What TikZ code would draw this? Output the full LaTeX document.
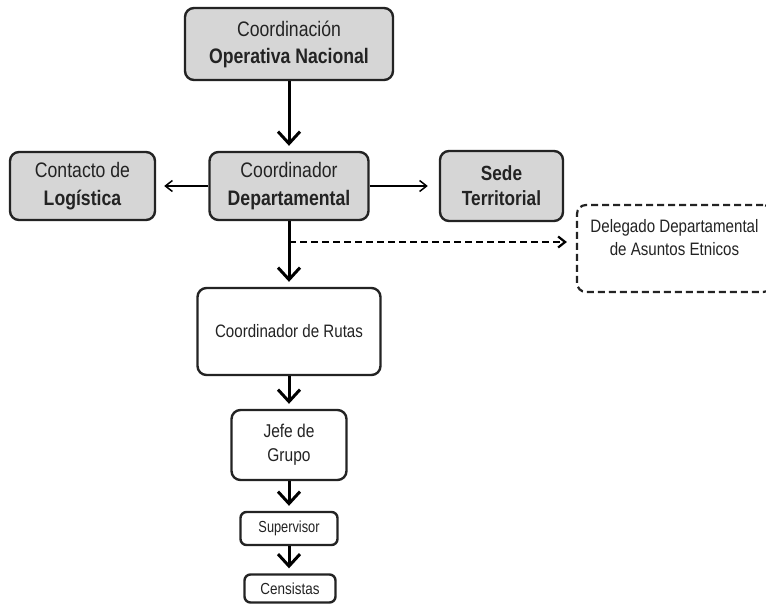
\documentclass[tikz,border=0pt]{standalone}
\usepackage{fontspec}
\setmainfont[FakeStretch=0.84]{Liberation Sans}
\usetikzlibrary{arrows.meta}
\definecolor{boxgray}{RGB}{214,214,214}
\definecolor{inkgray}{RGB}{35,35,35}

\begin{document}
\begin{tikzpicture}[x=1pt, y=-1pt,
  box/.style={draw=inkgray, line width=2.4pt, rounded corners=9pt, align=center, inner sep=0pt, text=inkgray},
  graybox/.style={box, fill=boxgray, font=\fontsize{21}{27}\selectfont},
  whitebox/.style={box, fill=white, font=\fontsize{18}{23}\selectfont},
  smallbox/.style={box, fill=white, rounded corners=6pt, font=\fontsize{16}{18}\selectfont},
  bigarrow/.style={line width=3pt, -{Straight Barb[length=12pt,width=22pt]}, shorten >=5pt},
  thinarrow/.style={line width=1.5pt, -{Straight Barb[length=7pt,width=11pt]}, shorten >=8pt},
  dasharrow/.style={line width=2.2pt, dash pattern=on 7pt off 4pt, -{Straight Barb[length=7pt,width=11pt]}, shorten >=9pt}]
\clip (0,0) rectangle (766,603);
% top of the chart
\node[graybox, minimum width=208pt, minimum height=72pt] (nacional) at (289,44) {Coordinación\\\textbf{Operativa Nacional}};
\node[graybox, minimum width=159pt, minimum height=68pt, font=\fontsize{21}{28}\selectfont] (depto) at (289,186) {Coordinador\\\textbf{Departamental}};
\node[graybox, minimum width=145pt, minimum height=68pt, font=\fontsize{21}{28}\selectfont] (logistica) at (82.5,186) {Contacto de\\\textbf{Logística}};
\node[graybox, minimum width=123pt, minimum height=70pt, font=\fontsize{20.5}{25}\selectfont] (sede) at (501.5,186) {\textbf{Sede}\\\textbf{Territorial}};
\node[whitebox, dash pattern=on 7pt off 4pt, line width=2.2pt, minimum width=195pt, minimum height=87pt] (etnicos) at (674.5,248.5) {Delegado Departamental\\de Asuntos Etnicos\\\mbox{}};
% field chain
\node[whitebox, minimum width=183pt, minimum height=87pt] (rutas) at (289,331.5) {Coordinador de Rutas};
\node[whitebox, minimum width=115pt, minimum height=70pt, font=\fontsize{18.5}{24}\selectfont] (jefe) at (289,445) {Jefe de\\Grupo};
\node[smallbox, minimum width=97pt, minimum height=33pt] (supervisor) at (289,528.5) {\scalebox{0.95}[1]{Supervisor}};
\node[smallbox, minimum width=91pt, minimum height=28pt] (censistas) at (290,588.5) {Censistas};
\coordinate (split) at (289,242);

\draw[bigarrow] (nacional) -- (depto);
\draw[thinarrow] (depto) -- (logistica);
\draw[thinarrow, shorten >=11pt] (depto) -- (sede);
\draw[bigarrow] (depto) -- (rutas);
\draw[dasharrow] (split) -- (split -| etnicos.west);
\draw[bigarrow] (rutas) -- (jefe);
\draw[bigarrow] (jefe) -- (supervisor);
\draw[bigarrow] (supervisor) -- (supervisor |- censistas.north);
\end{tikzpicture}
\end{document}
